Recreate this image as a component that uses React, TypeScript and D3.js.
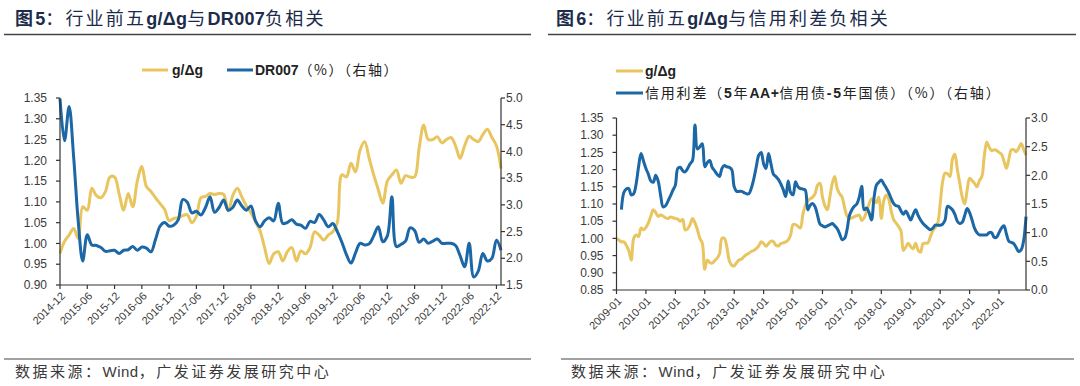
import React from 'react';
import * as d3 from 'd3';

// ---------- DATA: chart 5 (monthly, 2014-12 .. 2023-01) ----------
const leftStart = { year: 2014, month: 12 };
const leftTickLabels = ["2014-12","2015-06","2015-12","2016-06","2016-12","2017-06","2017-12","2018-06","2018-12","2019-06","2019-12","2020-06","2020-12","2021-06","2021-12","2022-06","2022-12"];
const leftGdg = [
  0.976,1.005,1.02,1.036,1.012,1.088,1.08,1.133,1.115,1.11,
  1.125,1.16,1.16,1.12,1.08,1.12,1.088,1.15,1.185,1.137,
  1.125,1.11,1.096,1.082,1.055,1.06,1.062,1.067,1.069,1.05,
  1.065,1.11,1.113,1.12,1.118,1.12,1.118,1.078,1.115,1.133,
  1.112,1.09,1.074,1.052,1.03,0.99,0.952,0.975,0.98,0.958,
  0.98,0.99,0.958,0.982,0.975,0.99,1.028,1.02,1.008,1.02,
  1.028,1.05,1.165,1.16,1.193,1.172,1.225,1.245,1.205,1.165,
  1.13,1.097,1.15,1.165,1.177,1.145,1.163,1.16,1.16,1.23,
  1.285,1.25,1.25,1.257,1.242,1.25,1.255,1.235,1.205,1.235,
  1.258,1.25,1.245,1.262,1.275,1.255,1.235,1.18
];
const dr007 = [
  4.99,4.2,4.84,3.9,2.7,1.95,2.44,2.25,2.24,2.2,
  2.13,2.14,2.15,2.09,2.15,2.16,2.22,2.15,2.21,2.19,
  2.12,2.35,2.6,2.67,2.6,2.62,2.72,3.1,3.05,2.85,
  2.88,2.81,2.95,3.15,2.86,2.95,3.09,2.9,2.95,3.09,
  2.98,2.9,2.98,2.7,2.59,2.7,2.76,2.7,3.03,2.65,
  2.67,2.72,2.64,2.62,2.56,2.69,2.67,2.82,2.72,2.59,
  2.65,2.5,2.3,2.07,1.91,2.1,2.28,2.25,2.27,2.42,
  2.59,2.31,2.42,3.15,2.22,2.26,2.32,2.57,2.52,2.3,
  2.36,2.28,2.32,2.36,2.28,2.28,2.28,2.24,2.05,1.84,
  2.28,1.65,1.76,2.09,1.95,2.0,2.34,2.15
];
const leftAxisTicksL = [0.90,0.95,1.00,1.05,1.10,1.15,1.20,1.25,1.30,1.35];
const leftAxisTicksR = [1.5,2.0,2.5,3.0,3.5,4.0,4.5,5.0];

// ---------- DATA: chart 6 (monthly, 2009-01 .. 2022-12) ----------
const rightStart = { year: 2009, month: 1 };
const rightTickLabels = ["2009-01","2010-01","2011-01","2012-01","2013-01","2014-01","2015-01","2016-01","2017-01","2018-01","2019-01","2020-01","2021-01","2022-01"];
const rightGdg = [
  1.0,0.995,0.99,0.99,0.98,0.965,0.937,1.0,1.01,1.005,
  1.03,1.025,1.032,1.045,1.065,1.083,1.075,1.064,1.068,1.065,
  1.06,1.058,1.062,1.06,1.058,1.056,1.05,1.055,1.025,1.028,
  1.04,1.058,1.045,1.025,1.0,0.986,0.91,0.937,0.93,0.928,
  0.935,0.942,0.955,1.0,1.0,0.975,0.935,0.922,0.92,0.93,
  0.937,0.94,0.947,0.953,0.957,0.962,0.965,0.97,0.978,0.99,
  0.985,0.977,0.985,0.992,0.99,0.98,0.978,0.985,0.987,0.99,
  0.995,1.01,1.04,1.04,1.035,1.03,1.07,1.095,1.11,1.115,
  1.12,1.13,1.155,1.16,1.12,1.095,1.083,1.12,1.16,1.18,
  1.145,1.13,1.12,1.09,1.065,1.058,1.06,1.063,1.066,1.068,
  1.052,1.06,1.078,1.1,1.115,1.11,1.104,1.12,1.058,1.11,
  1.126,1.115,1.08,1.055,1.045,1.035,1.022,0.965,0.975,0.986,
  0.976,0.97,0.986,0.965,0.96,0.985,0.986,0.987,1.005,1.022,
  1.032,1.045,1.1,1.165,1.19,1.188,1.18,1.23,1.245,1.2,
  1.16,1.12,1.1,1.14,1.175,1.168,1.16,1.15,1.168,1.18,
  1.24,1.28,1.265,1.255,1.258,1.256,1.25,1.245,1.225,1.204,
  1.23,1.257,1.258,1.252,1.262,1.276,1.26,1.242
];
const creditSpread: (number | null)[] = [
  null,null,1.40,1.70,1.76,1.77,1.66,1.68,1.85,2.15,
  2.38,2.25,2.12,2.02,1.90,1.88,2.0,1.9,1.65,1.45,
  1.47,1.55,1.64,1.74,1.83,2.12,2.14,2.08,2.06,2.12,
  2.2,2.26,2.88,2.46,2.5,2.55,2.15,2.22,2.26,2.14,
  2.08,2.02,1.98,2.12,2.17,2.15,2.14,2.1,1.8,1.72,
  1.72,1.72,1.7,1.68,1.68,1.78,1.94,2.15,2.35,2.4,
  2.2,2.12,2.38,2.2,2.02,1.98,1.93,1.85,1.75,1.63,
  1.9,1.7,1.66,1.89,1.8,1.77,1.76,1.74,1.40,1.48,
  1.51,1.45,1.30,1.15,1.12,1.10,1.12,1.14,1.16,1.12,
  1.07,0.98,0.88,0.9,1.05,1.3,1.40,1.46,1.50,1.62,
  1.81,1.40,1.43,1.35,1.22,1.6,1.83,1.88,1.92,1.85,
  1.78,1.70,1.60,1.51,1.47,1.46,1.38,1.32,1.38,1.30,
  1.22,1.32,1.40,1.30,1.22,1.16,1.12,1.08,1.05,1.08,
  1.13,1.13,1.13,1.15,1.22,1.46,1.44,1.40,1.32,1.2,
  1.16,1.18,1.3,1.42,1.35,1.22,1.08,1.0,0.96,0.96,
  0.96,0.96,1.0,1.0,0.92,0.92,1.0,1.08,1.12,0.98,
  0.85,0.83,0.81,0.74,0.67,0.7,0.85,1.28
];
const rightAxisTicksL = [0.85,0.90,0.95,1.00,1.05,1.10,1.15,1.20,1.25,1.30,1.35];
const rightAxisTicksR = [0.0,0.5,1.0,1.5,2.0,2.5,3.0];

const YELLOW = '#e8c55e';
const BLUE = '#1c67a6';
const NAVY = '#1d2b4b';
const TXT = '#3a3a3a';
const LATIN = 'Arial, "Liberation Sans", "Noto Sans CJK SC", sans-serif';
const CJK = '"Noto Sans CJK SC", "Liberation Sans", sans-serif';

function monthLabels(start: { year: number; month: number }, n: number): string[] {
  const out: string[] = [];
  for (let i = 0; i < n; i++) {
    const m = start.month - 1 + i;
    const y = start.year + Math.floor(m / 12);
    out.push(`${y}-${String((m % 12) + 1).padStart(2, '0')}`);
  }
  return out;
}

type PanelProps = {
  cats: string[];
  tickLabels: string[];
  x0: number; x1: number; yTop: number; yBot: number;
  lDomain: [number, number]; lTicks: number[];
  rDomain: [number, number]; rTicks: number[];
  yellow: number[]; blue: (number | null)[];
};

function Panel(p: PanelProps) {
  const x = d3.scalePoint<string>().domain(p.cats).range([p.x0, p.x1]);
  const yl = d3.scaleLinear().domain(p.lDomain).range([p.yBot, p.yTop]);
  const yr = d3.scaleLinear().domain(p.rDomain).range([p.yBot, p.yTop]);
  const curve = d3.curveCatmullRom.alpha(0.5);
  const lineL = d3.line<number>().defined(v => v != null).x((_, i) => x(p.cats[i])!).y(v => yl(v)).curve(curve);
  const lineR = d3.line<number | null>().defined(v => v != null).x((_, i) => x(p.cats[i])!).y(v => yr(v as number)).curve(curve);
  const axisColor = '#333';
  return (
    <g>
      <path d={lineL(p.yellow) || ''} fill="none" stroke={YELLOW} strokeWidth={3} strokeLinejoin="round" />
      <path d={lineR(p.blue) || ''} fill="none" stroke={BLUE} strokeWidth={3} strokeLinejoin="round" />
      {/* left axis */}
      <line x1={p.x0} x2={p.x0} y1={p.yTop} y2={p.yBot} stroke={axisColor} strokeWidth={1.2} />
      {p.lTicks.map(t => (
        <g key={'l' + t}>
          <line x1={p.x0 - 4} x2={p.x0} y1={yl(t)} y2={yl(t)} stroke={axisColor} strokeWidth={1.2} />
          <text x={p.x0 - 13} y={yl(t)} dy="0.35em" textAnchor="end" fontSize={12} fill={TXT} fontFamily={LATIN}>{t.toFixed(2)}</text>
        </g>
      ))}
      {/* right axis */}
      <line x1={p.x1} x2={p.x1} y1={p.yTop} y2={p.yBot} stroke={axisColor} strokeWidth={1.2} />
      {p.rTicks.map(t => (
        <g key={'r' + t}>
          <line x1={p.x1} x2={p.x1 + 4} y1={yr(t)} y2={yr(t)} stroke={axisColor} strokeWidth={1.2} />
          <text x={p.x1 + 5} y={yr(t)} dy="0.35em" textAnchor="start" fontSize={12} fill={TXT} fontFamily={LATIN}>{t.toFixed(1)}</text>
        </g>
      ))}
      {/* bottom axis */}
      <line x1={p.x0} x2={p.x1} y1={p.yBot} y2={p.yBot} stroke={axisColor} strokeWidth={1.2} />
      {p.tickLabels.map(lab => {
        const tx = x(lab)!;
        return (
          <g key={lab}>
            <line x1={tx} x2={tx} y1={p.yBot} y2={p.yBot + 4} stroke={axisColor} strokeWidth={1.2} />
            <text transform={`translate(${tx + 3},${p.yBot + 9}) rotate(-45)`} dy="0.35em" textAnchor="end" fontSize={11} fill={TXT} fontFamily={LATIN}>{lab}</text>
          </g>
        );
      })}
    </g>
  );
}

export default function App() {
  const leftCats = monthLabels(leftStart, leftGdg.length);
  const rightCats = monthLabels(rightStart, rightGdg.length);
  return (
    <svg width={1080} height={386} style={{ position: 'absolute', left: 0, top: 0, background: '#fff' }}>
      <rect width={1080} height={386} fill="#fff" />
      {/* Titles */}
      <text x={15} y={25} fontSize={18} fill={NAVY} fontFamily={CJK} letterSpacing={2.2}>
        <tspan fontWeight="bold">图</tspan><tspan fontWeight="bold" fontFamily={LATIN} letterSpacing={0}>5</tspan><tspan>：行业前五</tspan><tspan fontWeight="bold" fontFamily={LATIN} letterSpacing={0.3}>g/Δg</tspan><tspan>与</tspan><tspan fontWeight="bold" fontFamily={LATIN} letterSpacing={0.3}>DR007</tspan><tspan>负相关</tspan>
      </text>
      <line x1={4} x2={531} y1={34.5} y2={34.5} stroke="#444" strokeWidth={1.5} />
      <text x={556} y={25} fontSize={18} fill={NAVY} fontFamily={CJK} letterSpacing={2.2}>
        <tspan fontWeight="bold">图</tspan><tspan fontWeight="bold" fontFamily={LATIN} letterSpacing={0}>6</tspan><tspan>：行业前五</tspan><tspan fontWeight="bold" fontFamily={LATIN} letterSpacing={0.3}>g/Δg</tspan><tspan>与信用利差负相关</tspan>
      </text>
      <line x1={548} x2={1076} y1={34.5} y2={34.5} stroke="#444" strokeWidth={1.5} />

      {/* Legends */}
      <line x1={142} x2={168} y1={70} y2={70} stroke={YELLOW} strokeWidth={3} />
      <text x={172} y={75} fontSize={14} fontWeight="bold" fill="#222" fontFamily={LATIN}>g/Δg</text>
      <line x1={227} x2={253} y1={70} y2={70} stroke={BLUE} strokeWidth={3} />
      <text x={255} y={75} fontSize={14} fill="#222" fontFamily={CJK} letterSpacing={1.5}>
        <tspan fontWeight="bold" fontFamily={LATIN} letterSpacing={0}>DR007</tspan><tspan>（%）（右轴）</tspan>
      </text>

      <line x1={616} x2={643} y1={71} y2={71} stroke={YELLOW} strokeWidth={3} />
      <text x={645} y={76} fontSize={14} fontWeight="bold" fill="#222" fontFamily={LATIN}>g/Δg</text>
      <line x1={616} x2={643} y1={93} y2={93} stroke={BLUE} strokeWidth={3} />
      <text x={645} y={98} fontSize={14} fill="#222" fontFamily={CJK} letterSpacing={1.8}>
        <tspan>信用利差（</tspan><tspan fontWeight="bold" fontFamily={LATIN}>5</tspan><tspan>年</tspan><tspan fontWeight="bold" fontFamily={LATIN} letterSpacing={0.5}>AA+</tspan><tspan>信用债</tspan><tspan fontWeight="bold" fontFamily={LATIN}>-5</tspan><tspan>年国债）（%）（右轴）</tspan>
      </text>

      <Panel cats={leftCats} tickLabels={leftTickLabels} x0={60} x1={501} yTop={98} yBot={285}
        lDomain={[0.90, 1.35]} lTicks={leftAxisTicksL} rDomain={[1.5, 5.0]} rTicks={leftAxisTicksR}
        yellow={leftGdg} blue={dr007} />
      <Panel cats={rightCats} tickLabels={rightTickLabels} x0={616.5} x1={1026} yTop={118} yBot={290}
        lDomain={[0.85, 1.35]} lTicks={rightAxisTicksL} rDomain={[0, 3.0]} rTicks={rightAxisTicksR}
        yellow={rightGdg} blue={creditSpread} />

      {/* Sources */}
      <line x1={4} x2={531} y1={359} y2={359} stroke="#444" strokeWidth={1.2} />
      <text x={15} y={377} fontSize={15} fill={TXT} fontFamily={CJK} letterSpacing={2.5}>
        <tspan>数据来源：</tspan><tspan fontFamily={LATIN} letterSpacing={0.5}>Wind</tspan><tspan>，广发证券发展研究中心</tspan>
      </text>
      <line x1={561} x2={1074} y1={359} y2={359} stroke="#444" strokeWidth={1.2} />
      <text x={571} y={377} fontSize={15} fill={TXT} fontFamily={CJK} letterSpacing={2.5}>
        <tspan>数据来源：</tspan><tspan fontFamily={LATIN} letterSpacing={0.5}>Wind</tspan><tspan>，广发证券发展研究中心</tspan>
      </text>
    </svg>
  );
}
